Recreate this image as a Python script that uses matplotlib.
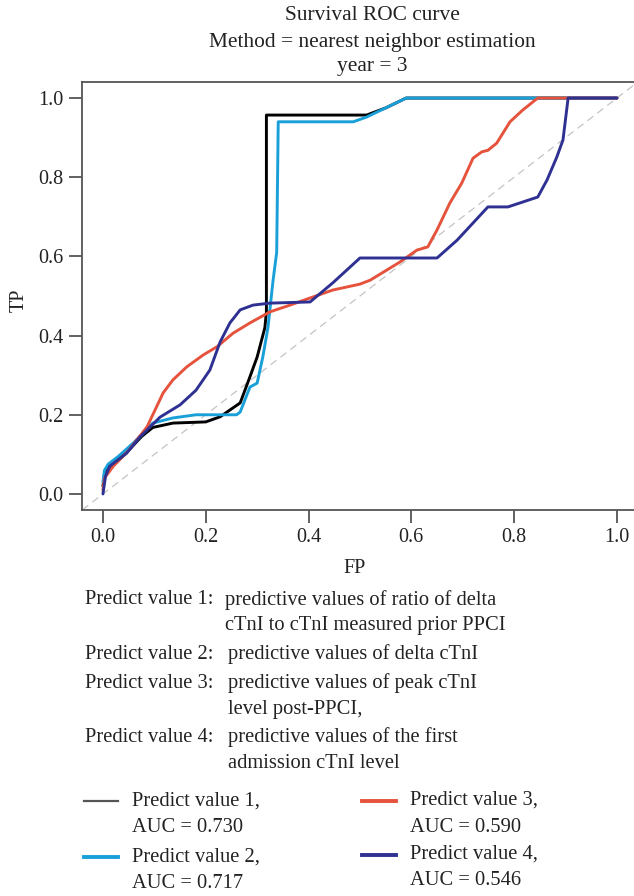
import matplotlib
matplotlib.use("Agg")
import matplotlib.pyplot as plt
from matplotlib.lines import Line2D

# ---------------- data ----------------
fp1 = [0.0, 0.003, 0.01, 0.03, 0.05, 0.075, 0.097, 0.136, 0.2, 0.228, 0.267, 0.286, 0.30, 0.315, 0.318, 0.318, 0.513, 0.55, 0.59, 1.0]
tp1 = [0.02, 0.05, 0.065, 0.085, 0.11, 0.145, 0.168, 0.179, 0.182, 0.195, 0.23, 0.296, 0.346, 0.42, 0.46, 0.957, 0.957, 0.975, 1.0, 1.0]

fp2 = [0.0, 0.003, 0.01, 0.03, 0.06, 0.097, 0.136, 0.181, 0.26, 0.267, 0.286, 0.30, 0.311, 0.321, 0.331, 0.338, 0.341, 0.487, 0.513, 0.59, 1.0]
tp2 = [0.03, 0.06, 0.075, 0.095, 0.13, 0.179, 0.192, 0.2, 0.2, 0.207, 0.27, 0.28, 0.346, 0.42, 0.54, 0.61, 0.94, 0.94, 0.952, 1.0, 1.0]

fp3 = [0.0, 0.003, 0.02, 0.05, 0.086, 0.117, 0.136, 0.163, 0.195, 0.222, 0.253, 0.286, 0.325, 0.364, 0.403, 0.447, 0.5, 0.52, 0.578, 0.611, 0.632, 0.65, 0.675, 0.698, 0.72, 0.737, 0.749, 0.766, 0.792, 0.817, 0.846, 1.0]
tp3 = [0.01, 0.04, 0.07, 0.11, 0.17, 0.255, 0.288, 0.321, 0.351, 0.372, 0.406, 0.432, 0.46, 0.477, 0.495, 0.515, 0.53, 0.54, 0.586, 0.616, 0.624, 0.667, 0.735, 0.785, 0.848, 0.864, 0.868, 0.886, 0.94, 0.97, 1.0, 1.0]

fp4 = [0.0, 0.005, 0.013, 0.046, 0.072, 0.111, 0.15, 0.181, 0.208, 0.228, 0.247, 0.267, 0.292, 0.325, 0.403, 0.447, 0.5, 0.65, 0.689, 0.749, 0.788, 0.846, 0.864, 0.883, 0.895, 0.905, 1.0]
tp4 = [0.0, 0.045, 0.07, 0.103, 0.144, 0.194, 0.225, 0.262, 0.313, 0.384, 0.432, 0.465, 0.477, 0.482, 0.485, 0.533, 0.596, 0.596, 0.641, 0.725, 0.725, 0.75, 0.793, 0.851, 0.894, 1.0, 1.0]

series_names = ["Predict value 1", "Predict value 2", "Predict value 3", "Predict value 4"]
auc_values = [0.730, 0.717, 0.590, 0.546]
descriptions = [
    ["predictive values of ratio of delta", "cTnI to cTnI measured prior PPCI"],
    ["predictive values of delta cTnI"],
    ["predictive values of peak cTnI", "level post-PPCI,"],
    ["predictive values of the first", "admission cTnI level"],
]
xticks = [0.0, 0.2, 0.4, 0.6, 0.8, 1.0]
yticks = [0.0, 0.2, 0.4, 0.6, 0.8, 1.0]
title_lines = ["Survival ROC curve", "Method = nearest neighbor estimation", "year = 3"]

# ---------------- style ----------------
colors = ["#000000", "#1aa0d8", "#e5533d", "#2e3192"]
legend_colors = ["#555555", "#1aa0d8", "#e5533d", "#2e3192"]
legend_lw = [1.6, 2.8, 2.8, 2.8]
FONT = "Liberation Serif"
plt.rcParams["font.family"] = [FONT, "DejaVu Serif"]
TXT = "#222222"
FS = 14.8

W, H = 634, 896
fig = plt.figure(figsize=(W / 100, H / 100), dpi=100)

def fx(px):
    return px / W

def fy(py):
    return 1 - py / H

# axes: x -0.04..1.04 maps to px 82.4..637.5 ; y -0.04..1.04 maps to 509.8..82.2
ax_left, ax_right, ax_top, ax_bottom = 82.4, 637.5, 82.2, 509.8
ax = fig.add_axes([fx(ax_left), fy(ax_bottom), (ax_right - ax_left) / W, (ax_bottom - ax_top) / H])
ax.set_xlim(-0.04, 1.04)
ax.set_ylim(-0.04, 1.04)

ax.axline((0, 0), (1, 1), color="#c4c4c4", lw=0.9, ls=(0, (6, 4)), zorder=1)
for fp, tp, c in zip([fp1, fp2, fp3, fp4], [tp1, tp2, tp3, tp4], colors):
    ax.plot(fp, tp, color=c, lw=2.1, solid_joinstyle="round", solid_capstyle="round", zorder=2)

for s in ax.spines.values():
    s.set_color("#555555")
    s.set_linewidth(1.3)
ax.set_xticks(xticks)
ax.set_yticks(yticks)
ax.set_xticklabels([f"{v:.1f}" for v in xticks])
ax.set_yticklabels([f"{v:.1f}" for v in yticks])
ax.tick_params(direction="out", length=9.4, width=1.3, color="#555555",
               labelsize=14.5, pad=4, labelcolor=TXT)
for lab in ax.get_xticklabels() + ax.get_yticklabels():
    lab.set_family(FONT)

ax.set_xlabel("FP", fontsize=14.5, color=TXT)
ax.xaxis.set_label_coords((355 - ax_left) / (ax_right - ax_left), (ax_bottom - 568) / (ax_bottom - ax_top))
ax.xaxis.label.set_va("center")
ax.set_ylabel("TP", fontsize=14.5, color=TXT)
ax.yaxis.set_label_coords((19 - ax_left) / (ax_right - ax_left), (ax_bottom - 300) / (ax_bottom - ax_top))
ax.yaxis.label.set_va("center")

# title
for line, py in zip(title_lines, [16, 42, 67]):
    fig.text(fx(372), fy(py), line, ha="center", va="center", fontsize=15.4, color=TXT)

# description block
desc_y = [[600, 625], [654], [683, 709], [737, 763]]
desc_x = [225, 228, 228, 228]
for name, lines, ys, x2 in zip(series_names, descriptions, desc_y, desc_x):
    fig.text(fx(85), fy(ys[0]), name + ":", ha="left", va="center", fontsize=FS, color=TXT)
    for t, py in zip(lines, ys):
        fig.text(fx(x2), fy(py), t, ha="left", va="center", fontsize=FS, color=TXT)

# legend (manual, two columns)
leg_line_x = [(84, 118), (84, 118), (362, 396), (362, 396)]
leg_text_x = [132, 132, 410, 410]
leg_y = [(801, 827), (857, 883), (800, 827), (854, 880)]
leg_line_y = [801, 857, 801, 855]
for i in range(4):
    x0, x1 = leg_line_x[i]
    fig.add_artist(Line2D([fx(x0), fx(x1)], [fy(leg_line_y[i])] * 2, transform=fig.transFigure,
                          color=legend_colors[i], lw=legend_lw[i]))
    fig.text(fx(leg_text_x[i]), fy(leg_y[i][0]), series_names[i] + ",", ha="left", va="center",
             fontsize=FS, color=TXT)
    fig.text(fx(leg_text_x[i]), fy(leg_y[i][1]), f"AUC = {auc_values[i]:.3f}", ha="left", va="center",
             fontsize=FS, color=TXT)

fig.savefig("out.png", dpi=100)
